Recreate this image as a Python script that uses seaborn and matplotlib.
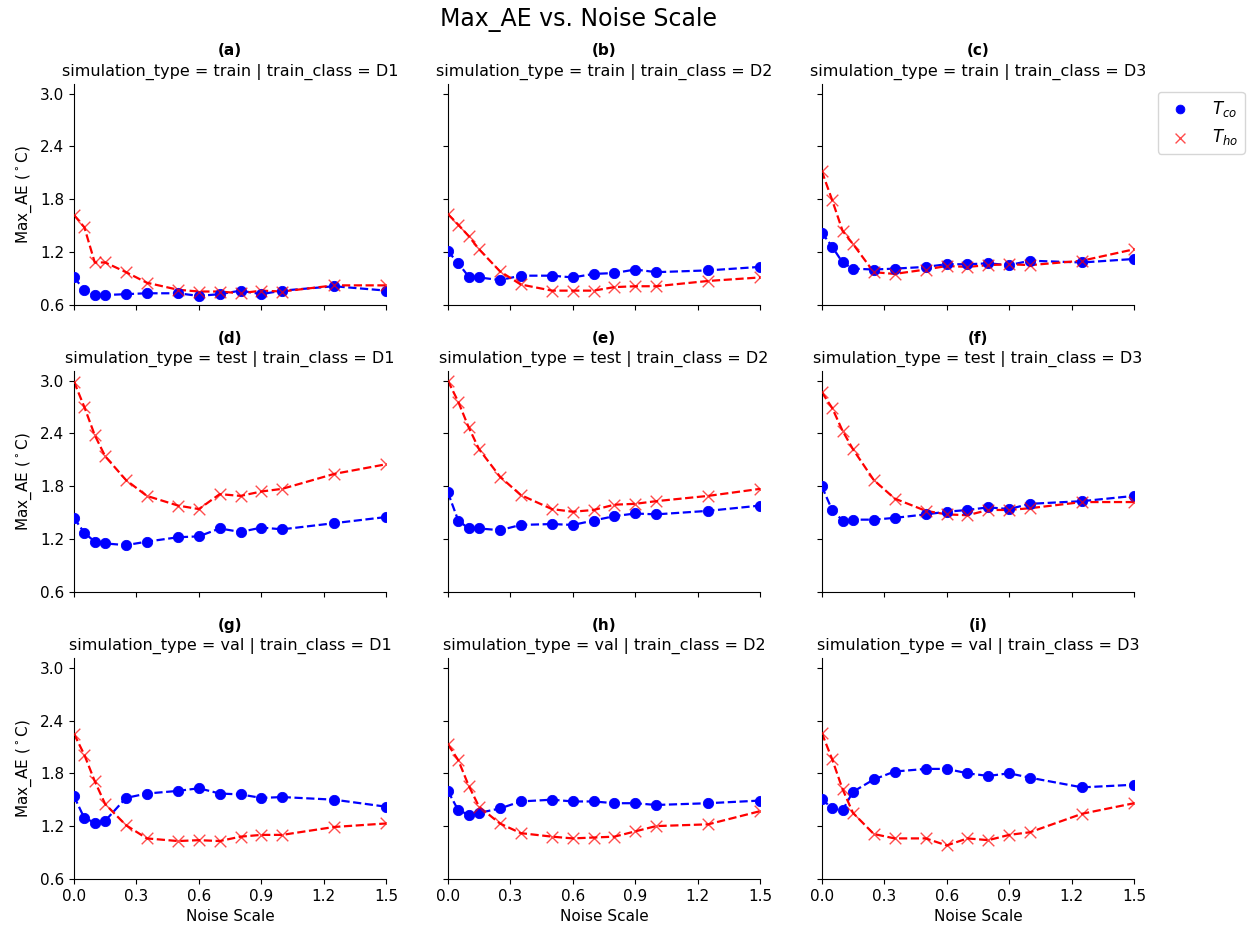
import matplotlib
matplotlib.use("Agg")
import matplotlib.pyplot as plt
import seaborn as sns
import pandas as pd

noise_scale = [0.0, 0.05, 0.1, 0.15, 0.25, 0.35, 0.5, 0.6, 0.7, 0.8, 0.9, 1.0, 1.25, 1.5]
sim_types = ['train', 'test', 'val']
train_classes = ['D1', 'D2', 'D3']
panel_tags = ['(a)', '(b)', '(c)', '(d)', '(e)', '(f)', '(g)', '(h)', '(i)']

# Max_AE for T_co (blue) per panel, row-major (train D1..D3, test D1..D3, val D1..D3)
tco_values = [
    [0.91, 0.77, 0.71, 0.71, 0.72, 0.73, 0.73, 0.70, 0.72, 0.76, 0.72, 0.76, 0.81, 0.76],
    [1.21, 1.07, 0.92, 0.91, 0.88, 0.93, 0.93, 0.91, 0.95, 0.96, 1.00, 0.97, 0.99, 1.03],
    [1.42, 1.26, 1.08, 1.01, 1.00, 1.01, 1.03, 1.06, 1.06, 1.07, 1.05, 1.10, 1.08, 1.12],
    [1.44, 1.27, 1.17, 1.15, 1.13, 1.17, 1.22, 1.23, 1.32, 1.28, 1.33, 1.31, 1.38, 1.45],
    [1.73, 1.41, 1.32, 1.32, 1.30, 1.36, 1.37, 1.36, 1.41, 1.46, 1.49, 1.48, 1.52, 1.58],
    [1.80, 1.53, 1.41, 1.42, 1.42, 1.44, 1.48, 1.51, 1.53, 1.56, 1.54, 1.60, 1.63, 1.69],
    [1.54, 1.29, 1.24, 1.26, 1.52, 1.57, 1.60, 1.63, 1.57, 1.56, 1.52, 1.53, 1.50, 1.42],
    [1.60, 1.38, 1.33, 1.35, 1.40, 1.48, 1.50, 1.48, 1.48, 1.46, 1.46, 1.44, 1.46, 1.49],
    [1.51, 1.40, 1.38, 1.59, 1.73, 1.82, 1.85, 1.85, 1.80, 1.77, 1.80, 1.75, 1.64, 1.67],
]

# Max_AE for T_ho (red) per panel, same order
tho_values = [
    [1.62, 1.48, 1.08, 1.08, 0.97, 0.85, 0.77, 0.75, 0.75, 0.73, 0.76, 0.75, 0.82, 0.82],
    [1.63, 1.51, 1.38, 1.23, 0.98, 0.83, 0.76, 0.76, 0.76, 0.80, 0.81, 0.81, 0.87, 0.91],
    [2.12, 1.79, 1.44, 1.29, 0.97, 0.95, 1.00, 1.04, 1.03, 1.05, 1.06, 1.05, 1.10, 1.23],
    [2.99, 2.70, 2.38, 2.14, 1.87, 1.69, 1.58, 1.54, 1.71, 1.69, 1.74, 1.77, 1.94, 2.05],
    [3.00, 2.76, 2.47, 2.22, 1.91, 1.70, 1.54, 1.51, 1.53, 1.59, 1.60, 1.63, 1.69, 1.77],
    [2.87, 2.69, 2.43, 2.22, 1.87, 1.66, 1.52, 1.48, 1.47, 1.53, 1.53, 1.55, 1.62, 1.62],
    [2.25, 2.01, 1.71, 1.45, 1.21, 1.06, 1.03, 1.04, 1.03, 1.08, 1.10, 1.10, 1.19, 1.23],
    [2.13, 1.95, 1.66, 1.42, 1.23, 1.12, 1.08, 1.06, 1.07, 1.08, 1.14, 1.20, 1.22, 1.37],
    [2.26, 1.96, 1.62, 1.35, 1.11, 1.06, 1.06, 0.98, 1.06, 1.04, 1.10, 1.13, 1.34, 1.46],
]

rows = []
k = 0
for st in sim_types:
    for tc in train_classes:
        for x, yc, yh in zip(noise_scale, tco_values[k], tho_values[k]):
            rows.append({'simulation_type': st, 'train_class': tc, 'noise_scale': x,
                         'target': 'T_co', 'max_ae': yc})
            rows.append({'simulation_type': st, 'train_class': tc, 'noise_scale': x,
                         'target': 'T_ho', 'max_ae': yh})
        k += 1
df = pd.DataFrame(rows)

fig, axes = plt.subplots(3, 3, figsize=(12.49, 9.32), dpi=100, sharex=True, sharey=True)
fig.subplots_adjust(left=0.0592, right=0.908, top=0.91, bottom=0.057, hspace=0.30, wspace=0.197)

k = 0
for i, st in enumerate(sim_types):
    for j, tc in enumerate(train_classes):
        ax = axes[i, j]
        sub = df[(df.simulation_type == st) & (df.train_class == tc)]
        co = sub[sub.target == 'T_co']
        ho = sub[sub.target == 'T_ho']
        sns.lineplot(data=co, x='noise_scale', y='max_ae', color='blue', linestyle='--',
                     linewidth=1.6, ax=ax, legend=False)
        sns.lineplot(data=ho, x='noise_scale', y='max_ae', color='red', linestyle='--',
                     linewidth=1.6, ax=ax, legend=False)
        sns.scatterplot(data=co, x='noise_scale', y='max_ae', color='blue', marker='o',
                        s=55, edgecolor='blue', ax=ax, label='$T_{co}$', zorder=3)
        sns.scatterplot(data=ho, x='noise_scale', y='max_ae', color='red', marker='x',
                        s=70, linewidth=1.0, alpha=0.7, ax=ax, label='$T_{ho}$', zorder=3)
        ax.get_legend().remove()
        ax.set_title(f'simulation_type = {st} | train_class = {tc}', fontsize=11.5)
        ax.text(0.5, 1.115, panel_tags[k], transform=ax.transAxes, ha='center', va='bottom',
                fontsize=11, fontweight='bold')
        ax.spines['top'].set_visible(False)
        ax.spines['right'].set_visible(False)
        ax.set_xlabel('Noise Scale' if i == 2 else '', fontsize=11)
        ax.set_ylabel('Max_AE ($^\\circ$C)' if j == 0 else '', fontsize=11)
        ax.tick_params(labelsize=11)
        k += 1

ax = axes[0, 0]
ax.set_xlim(0, 1.5)
ax.set_ylim(0.6, 3.11)
ax.set_xticks([0.0, 0.3, 0.6, 0.9, 1.2, 1.5])
ax.set_yticks([0.6, 1.2, 1.8, 2.4, 3.0])

handles, labels = axes[0, 2].get_legend_handles_labels()
fig.legend(handles, labels, loc='upper left', bbox_to_anchor=(0.9271, 0.9013), fontsize=12,
           markerscale=0.85, borderaxespad=0, handlelength=1.83, handletextpad=1.0)

fig.suptitle('Max_AE vs. Noise Scale', fontsize=17, x=0.463, y=0.993)
plt.savefig('out.png', dpi=100)
plt.close()
